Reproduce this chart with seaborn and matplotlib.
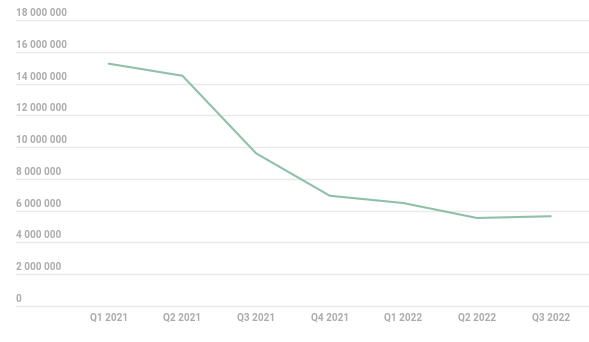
import matplotlib
matplotlib.use("Agg")
import matplotlib.pyplot as plt
import matplotlib.transforms as mtransforms
import pandas as pd
import seaborn as sns

quarters = ["Q1 2021", "Q2 2021", "Q3 2021", "Q4 2021", "Q1 2022", "Q2 2022", "Q3 2022"]
values = [15250000, 14490000, 9610000, 6940000, 6480000, 5540000, 5650000]
y_ticks = [0, 2000000, 4000000, 6000000, 8000000, 10000000, 12000000, 14000000, 16000000, 18000000]

sns.set_style("white")
plt.rcParams["font.family"] = ["Roboto", "DejaVu Sans"]

label_color = "#ababab"
grid_color = "#e9e9e9"
line_color = "#8ec1a7"

df = pd.DataFrame({"quarter": quarters, "value": values})
df["pos"] = range(len(quarters))

fig = plt.figure(figsize=(5.89, 3.42), dpi=100)
ax = fig.add_axes([16 / 589, 0.0912, 1 - 16 / 589, 0.8643])

for t in y_ticks:
    ax.axhline(t, color=grid_color, lw=1.0, zorder=0)

sns.lineplot(data=df, x="pos", y="value", ax=ax, color=line_color, lw=1.5, zorder=3)

ax.set_xlim(-1.26, 6.52)
ax.set_ylim(-300000, 18300000)

ax.set_xticks(df["pos"])
ax.set_xticklabels(quarters, color=label_color, fontsize=7.2, fontweight="bold")
ax.set_yticks([])
ax.tick_params(axis="x", length=0, pad=1)
ax.set_xlabel("")
ax.set_ylabel("")
for s in ax.spines.values():
    s.set_visible(False)

trans = mtransforms.blended_transform_factory(ax.transAxes, ax.transData)
offset = mtransforms.offset_copy(trans, fig=fig, x=0, y=2, units="dots")
for t in y_ticks:
    lab = f"{t:,}".replace(",", " ")
    ax.text(0.0, t, lab, transform=offset, ha="left", va="bottom",
            color=label_color, fontsize=7.2, fontweight="bold")

fig.savefig("out.png", dpi=100)
